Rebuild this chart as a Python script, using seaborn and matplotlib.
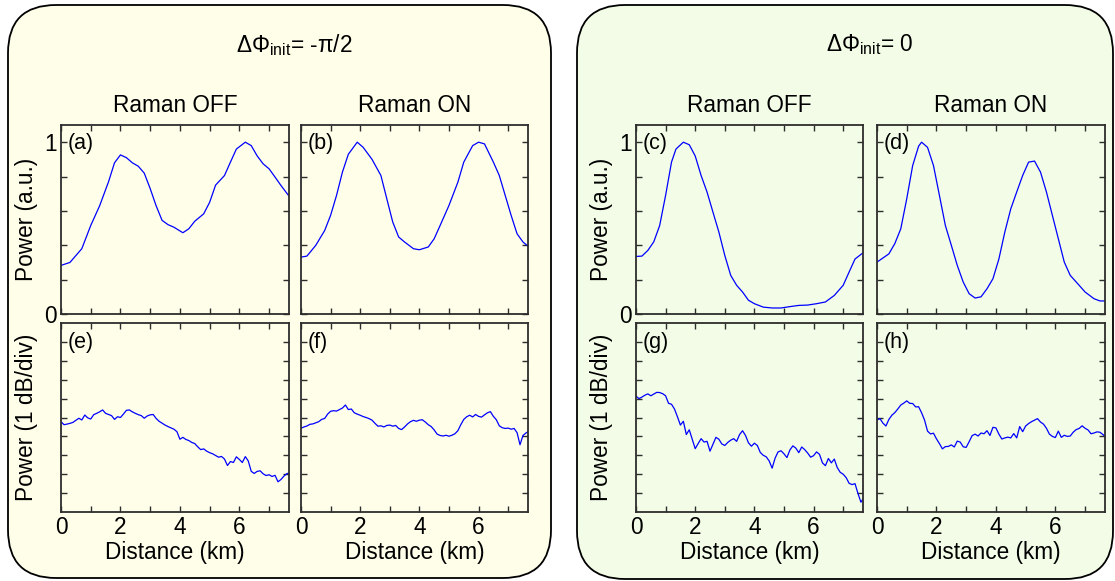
import numpy as np
import matplotlib
matplotlib.use("Agg")
import matplotlib.pyplot as plt
from matplotlib.patches import FancyBboxPatch
import seaborn as sns

sns.set_theme(style="ticks")
plt.rcParams['font.family'] = ['Liberation Sans', 'DejaVu Sans']
plt.rcParams['mathtext.fontset'] = 'custom'
plt.rcParams['mathtext.rm'] = 'Liberation Sans'
plt.rcParams['mathtext.it'] = 'Liberation Sans:italic'
plt.rcParams['text.color'] = 'black'
plt.rcParams['axes.labelcolor'] = 'black'
plt.rcParams['xtick.labelcolor'] = 'black'
plt.rcParams['ytick.labelcolor'] = 'black'

# ---------------- data ----------------
# Normalized power traces (top row)
dist_a = [0.0, 0.3, 0.7, 1.0, 1.3, 1.6, 1.8, 2.0, 2.2, 2.4, 2.6, 2.8, 3.0, 3.2, 3.4, 3.6, 3.8,
          4.1, 4.3, 4.5, 4.8, 5.0, 5.2, 5.5, 5.7, 5.9, 6.2, 6.4, 6.6, 6.8, 7.0, 7.2, 7.4, 7.67]
pow_a = [0.283, 0.30, 0.38, 0.515, 0.63, 0.77, 0.88, 0.926, 0.91, 0.88, 0.86, 0.82, 0.73, 0.63,
         0.545, 0.52, 0.505, 0.473, 0.496, 0.54, 0.583, 0.65, 0.75, 0.806, 0.884, 0.96, 1.0,
         0.98, 0.92, 0.874, 0.845, 0.797, 0.748, 0.686]

dist_b = [0.0, 0.2, 0.5, 0.8, 1.0, 1.2, 1.4, 1.6, 1.9, 2.1, 2.4, 2.7, 2.9, 3.1, 3.3, 3.5, 3.8,
          4.0, 4.3, 4.5, 4.7, 5.0, 5.3, 5.5, 5.8, 6.0, 6.2, 6.5, 6.7, 6.9, 7.1, 7.3, 7.5, 7.67]
pow_b = [0.331, 0.337, 0.40, 0.486, 0.574, 0.69, 0.826, 0.93, 1.0, 0.97, 0.90, 0.806, 0.67,
         0.535, 0.448, 0.419, 0.38, 0.374, 0.39, 0.438, 0.515, 0.632, 0.767, 0.884, 0.98, 1.0,
         0.99, 0.884, 0.806, 0.69, 0.574, 0.467, 0.419, 0.395]

dist_c = [0.0, 0.2, 0.4, 0.6, 0.8, 1.0, 1.2, 1.35, 1.6, 1.8, 2.0, 2.2, 2.4, 2.6, 2.8, 3.0, 3.2,
          3.4, 3.6, 3.8, 4.0, 4.3, 4.6, 4.9, 5.2, 5.5, 5.8, 6.1, 6.4, 6.7, 7.0, 7.2, 7.4, 7.67]
pow_c = [0.335, 0.337, 0.37, 0.42, 0.515, 0.69, 0.884, 0.96, 1.0, 0.985, 0.92, 0.806, 0.71,
         0.593, 0.477, 0.341, 0.225, 0.167, 0.128, 0.08, 0.06, 0.04, 0.035, 0.035, 0.043, 0.05,
         0.052, 0.06, 0.07, 0.108, 0.167, 0.244, 0.32, 0.356]

dist_d = [0.0, 0.2, 0.4, 0.6, 0.8, 1.0, 1.2, 1.4, 1.5, 1.7, 1.9, 2.1, 2.3, 2.5, 2.7, 2.9, 3.1,
          3.3, 3.5, 3.7, 3.9, 4.1, 4.3, 4.5, 4.7, 4.9, 5.1, 5.3, 5.5, 5.7, 5.9, 6.1, 6.3, 6.5,
          6.8, 7.0, 7.3, 7.5, 7.67]
pow_d = [0.302, 0.326, 0.35, 0.41, 0.496, 0.67, 0.864, 0.977, 1.0, 0.97, 0.864, 0.69, 0.515,
         0.40, 0.283, 0.186, 0.118, 0.093, 0.10, 0.147, 0.205, 0.32, 0.477, 0.612, 0.71, 0.806,
         0.884, 0.89, 0.826, 0.71, 0.574, 0.438, 0.302, 0.225, 0.167, 0.128, 0.089, 0.076, 0.076]

# Logarithmic power traces (bottom row), 1 dB per division
dist_log = [0.0, 0.1, 0.2, 0.3, 0.4, 0.5, 0.6, 0.7, 0.8, 0.9, 1.0, 1.1, 1.2, 1.3, 1.4, 1.5,
            1.6, 1.7, 1.8, 1.9, 2.0, 2.1, 2.2, 2.3, 2.4, 2.5, 2.6, 2.7, 2.8, 2.9, 3.0, 3.1,
            3.2, 3.3, 3.4, 3.5, 3.6, 3.7, 3.8, 3.9, 4.0, 4.1, 4.2, 4.3, 4.4, 4.5, 4.6, 4.7,
            4.8, 4.9, 5.0, 5.1, 5.2, 5.3, 5.4, 5.5, 5.6, 5.7, 5.8, 5.9, 6.0, 6.1, 6.2, 6.3,
            6.4, 6.5, 6.6, 6.7, 6.8, 6.9, 7.0, 7.1, 7.2, 7.3, 7.4, 7.5, 7.6, 7.67]

db_e = [4.78, 4.62, 4.65, 4.69, 4.74, 4.85, 4.96, 4.87, 5.13, 4.98, 4.92, 5.15, 5.22, 5.30,
        5.40, 5.22, 5.16, 5.10, 4.90, 5.04, 5.00, 5.18, 5.38, 5.40, 5.30, 5.22, 5.15, 5.10,
        4.96, 5.08, 5.14, 5.16, 4.95, 4.80, 4.70, 4.60, 4.52, 4.45, 4.38, 4.25, 3.85, 3.95,
        3.84, 3.78, 3.68, 3.62, 3.45, 3.30, 3.34, 3.22, 3.14, 3.08, 2.99, 2.90, 2.94, 2.80,
        2.46, 2.67, 2.62, 2.92, 2.78, 2.62, 2.93, 2.70, 2.15, 2.04, 2.15, 2.18, 2.02, 1.93,
        1.97, 1.88, 1.94, 1.60, 1.72, 1.90, 2.03, 2.06]

db_f = [4.43, 4.50, 4.55, 4.64, 4.66, 4.72, 4.78, 4.90, 4.95, 5.18, 5.33, 5.36, 5.34, 5.42,
        5.50, 5.66, 5.42, 5.45, 5.25, 5.18, 5.12, 5.05, 5.00, 4.94, 4.86, 4.69, 4.54, 4.56,
        4.50, 4.58, 4.60, 4.54, 4.58, 4.42, 4.36, 4.50, 4.66, 4.78, 4.85, 4.80, 4.86, 4.88,
        4.76, 4.62, 4.52, 4.34, 4.12, 4.05, 4.02, 4.06, 4.01, 4.06, 4.14, 4.30, 4.62, 4.90,
        5.04, 5.12, 5.03, 5.16, 5.06, 5.02, 5.14, 5.25, 5.31, 5.06, 4.88, 4.56, 4.46, 4.42,
        4.44, 4.38, 4.42, 4.20, 3.56, 4.05, 4.18, 4.25]

db_g = [6.13, 6.00, 6.08, 6.18, 6.25, 6.15, 6.24, 6.33, 6.32, 6.26, 6.15, 5.75, 5.70, 5.45,
        5.04, 4.60, 4.80, 4.10, 4.35, 3.85, 3.35, 3.62, 3.88, 3.70, 3.74, 3.22, 3.58, 3.95,
        3.85, 3.60, 3.52, 3.68, 3.80, 3.88, 3.74, 4.10, 4.30, 4.05, 3.66, 3.48, 3.64, 3.52,
        3.15, 3.00, 2.92, 2.70, 2.32, 2.85, 3.18, 3.24, 3.08, 2.88, 3.28, 3.50, 3.38, 3.14,
        3.44, 3.30, 3.12, 2.90, 2.98, 3.18, 3.05, 2.60, 2.45, 2.83, 2.60, 2.80, 2.35, 2.10,
        2.00, 1.82, 1.52, 1.45, 1.50, 0.98, 0.52, 0.69]

db_h = [4.87, 4.94, 4.70, 4.55, 4.90, 5.12, 5.26, 5.45, 5.66, 5.76, 5.88, 5.75, 5.74, 5.56,
        5.57, 5.25, 4.86, 4.28, 4.13, 4.17, 3.87, 3.62, 3.34, 3.46, 3.47, 3.55, 3.44, 3.75,
        3.70, 3.45, 3.42, 3.72, 4.04, 4.12, 4.02, 4.18, 4.14, 4.30, 4.05, 4.48, 4.45, 4.12,
        3.86, 3.92, 3.96, 3.92, 4.15, 3.92, 4.52, 4.25, 4.55, 4.68, 4.78, 4.86, 4.94, 4.76,
        4.65, 4.43, 4.12, 4.00, 3.94, 4.28, 3.95, 4.06, 4.00, 4.02, 4.22, 4.36, 4.42, 4.56,
        4.43, 4.34, 4.14, 4.18, 4.24, 4.22, 4.10, 3.99]

panel_letters = ['(a)', '(b)', '(c)', '(d)', '(e)', '(f)', '(g)', '(h)']
group_titles = ['ΔΦ$_{\\mathrm{init}}$= -π/2', 'ΔΦ$_{\\mathrm{init}}$= 0']
column_titles = ['Raman OFF', 'Raman ON', 'Raman OFF', 'Raman ON']
x_ticks = [0, 1, 2, 3, 4, 5, 6, 7]
x_ticklabels = ['0', '', '2', '', '4', '', '6', '']
top_yticks = [0, 0.2, 0.4, 0.6, 0.8, 1.0]
top_yticklabels = ['0', '', '', '', '', '1']
bottom_yticks = [1, 2, 3, 4, 5, 6, 7, 8, 9]

# ---------------- figure ----------------
W, H = 1115, 581
fig = plt.figure(figsize=(W / 100, H / 100), dpi=100)
fig.patch.set_facecolor('white')

# rounded background frames, drawn in pixel units
bg = fig.add_axes([0, 0, 1, 1], zorder=-5)
bg.set_xlim(0, W)
bg.set_ylim(H, 0)
bg.axis('off')
frames = [((8, 5, 543, 573), '#fefee9'), ((577, 5, 536, 574), '#f2fce6')]
for (x0, y0, w, h), fc in frames:
    bg.add_patch(FancyBboxPatch((x0, y0), w, h, boxstyle="round,pad=0,rounding_size=48",
                                facecolor=fc, edgecolor='black', linewidth=1.3))


def px_rect(left, top, right, bottom):
    return [left / W, 1 - bottom / H, (right - left) / W, (bottom - top) / H]


cols = [(61, 289), (301, 528), (636, 863), (877, 1105)]
rows = [(125, 314), (323, 512)]

top_data = [(dist_a, pow_a), (dist_b, pow_b), (dist_c, pow_c), (dist_d, pow_d)]
bottom_data = [db_e, db_f, db_g, db_h]

spine_color = '#2d2d2d'
line_color = '#0000ff'
fs = 16.3

for r, (top, bottom) in enumerate(rows):
    for c, (left, right) in enumerate(cols):
        ax = fig.add_axes(px_rect(left, top, right, bottom))
        ax.set_facecolor('none')
        if r == 0:
            xs, ys = top_data[c]
            sns.lineplot(x=xs, y=ys, ax=ax, color=line_color, linewidth=0.9)
            ax.set_ylim(0, 1.1)
            ax.set_yticks(top_yticks)
            ax.set_yticklabels(top_yticklabels if c in (0, 2) else [''] * len(top_yticks))
            ax.set_xticks(x_ticks)
            ax.set_xticklabels([''] * len(x_ticks))
        else:
            sns.lineplot(x=dist_log, y=bottom_data[c], ax=ax, color=line_color, linewidth=0.9)
            ax.set_ylim(0, 10)
            ax.set_yticks(bottom_yticks)
            ax.set_yticklabels([''] * len(bottom_yticks))
            ax.set_xticks(x_ticks)
            ax.set_xticklabels(x_ticklabels)
            ax.set_xlabel('Distance (km)', fontsize=fs, labelpad=1, color='black')
        ax.set_xlim(0, 7.67)
        ax.tick_params(direction='in', length=4, width=1, top=True, right=True,
                       labelsize=fs, color=spine_color, labelcolor='black', pad=3)
        for s in ax.spines.values():
            s.set_color(spine_color)
            s.set_linewidth(1.3)
        if c in (0, 2):
            ax.set_ylabel('Power (a.u.)' if r == 0 else 'Power (1 dB/div)', fontsize=fs,
                          color='black')
            ax.yaxis.set_label_coords(-0.10, 0.5)
        else:
            ax.set_ylabel('')
        ax.text(0.03, 0.96 if r == 0 else 0.95, panel_letters[r * 4 + c], color='black',
                transform=ax.transAxes, ha='left', va='top', fontsize=15.5)

# group and column headings
fig.text(294 / W, 1 - 45 / H, group_titles[0], ha='center', va='center', fontsize=fs,
         color='black')
fig.text(870 / W, 1 - 45 / H, group_titles[1], ha='center', va='center', fontsize=fs,
         color='black')
for (left, right), title in zip(cols, column_titles):
    fig.text((left + right) / 2 / W, 1 - 105 / H, title, ha='center', va='center',
             fontsize=fs, color='black')

fig.savefig('out.png', dpi=100)
